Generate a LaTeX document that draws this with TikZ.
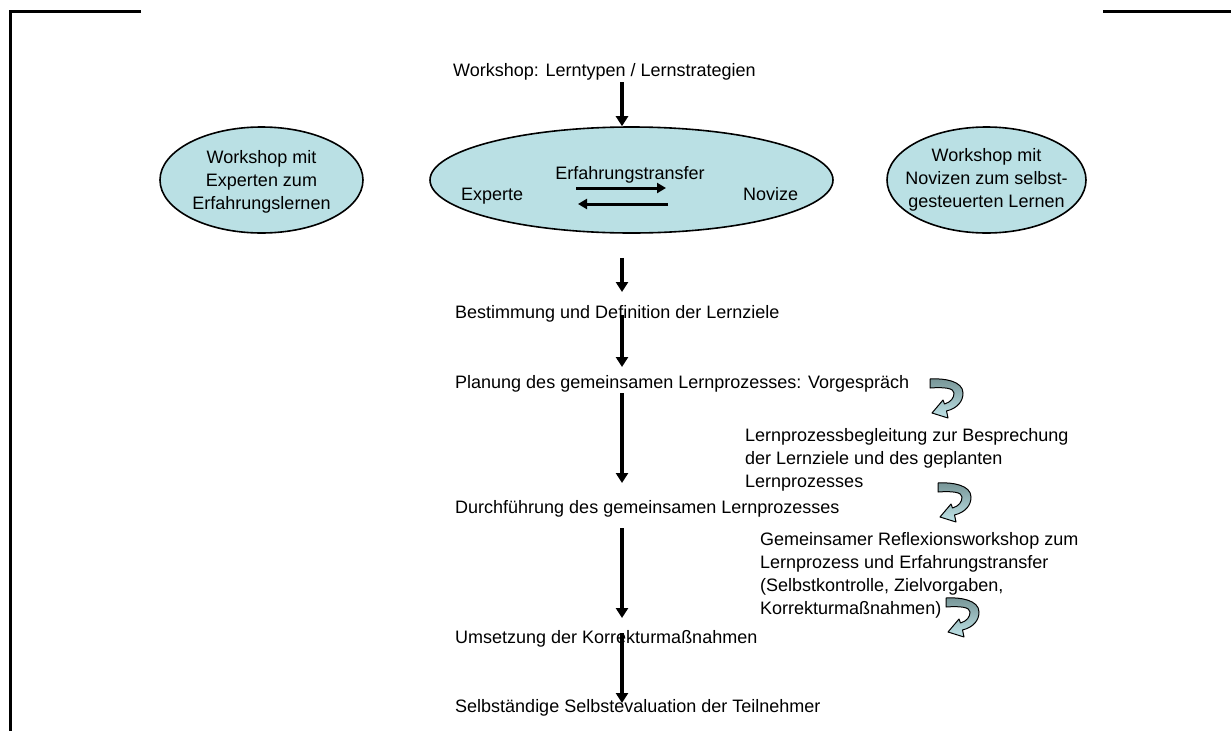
\documentclass[tikz,border=0pt]{standalone}
\usepackage{fontspec}
\setmainfont{Liberation Sans}
\usetikzlibrary{shapes.geometric,arrows.meta,calc}
\definecolor{bubble}{RGB}{186,224,228}
\definecolor{curldark}{RGB}{118,148,150}
\definecolor{curllight}{RGB}{192,228,232}
\tikzset{
  txt/.style={anchor=base west, inner sep=0pt},
  blocktxt/.style={anchor=north west, inner sep=0pt, align=left},
  bubblenode/.style={ellipse, draw=black, line width=1.6pt, fill=bubble, inner sep=0pt},
  bubbletxt/.style={inner sep=0pt, align=center},
  flow/.style={line width=3.2pt, -{Triangle[length=10pt,width=12pt]}},
  swaparrow/.style={line width=3pt, -{Triangle[length=9pt,width=10pt]}},
  frameline/.style={line width=3pt},
  curl/.pic={
    \shade[top color=curldark, bottom color=curllight, draw=black,
           line width=1pt, line join=round]
      (0,0) .. controls (14,-1) and (33,2) .. (33,14)
      .. controls (33,22) and (28,29) .. (16.5,32)
      -- (18,39) -- (2,34) -- (13,21) -- (14.5,25)
      .. controls (21,23) and (24,19) .. (24,14)
      .. controls (24,9) and (14,8) .. (0,9) -- cycle;
  }
}
\begin{document}
\begin{tikzpicture}[x=1pt, y=-1pt, font=\fontsize{18pt}{23pt}\selectfont]
\useasboundingbox (0,0) rectangle (1231,731);

% page frame fragments
\draw[frameline] (141,11) -- (10,11) -- (10,731);
\draw[frameline] (1103,11) -- (1231,11);

% vertical axis of the main flow
\coordinate (axis) at (622,0);

% heading
\node[txt] (title) at (453,76) {Workshop: Lerntypen / Lernstrategien};

% workshop bubbles
\node[bubblenode, minimum width=203pt, minimum height=106pt] (expert) at (261.5,180) {};
\node[bubbletxt] (experttxt) at (261.5,182) {Workshop mit\\Experten zum\\Erfahrungslernen};

\node[bubblenode, minimum width=403pt, minimum height=106pt] (central) at (631.5,180) {};
\node[anchor=base, inner sep=0pt] (transfer) at (630,179) {Erfahrungstransfer};
\node[txt] (experte) at (461,200) {Experte};
\node[txt] (novize) at (743,200) {Novize};

\node[bubblenode, minimum width=199pt, minimum height=106pt] (novice) at (986.5,180) {};
\node[bubbletxt] (novicetxt) at (986.5,180) {Workshop mit\\Novizen zum selbst-\\gesteuerten Lernen};

% exchange arrows between expert and novice
\draw[swaparrow] ($(transfer.base)+(-54,9)$) -- ($(transfer.base)+(36,9)$);
\draw[swaparrow] ($(transfer.base)+(38,25)$) -- ($(transfer.base)+(-52,25)$);

% process steps
\node[txt] (bestimmung) at (455,318) {Bestimmung und Definition der Lernziele};
\node[txt] (planung) at (455,388) {Planung des gemeinsamen Lernprozesses: Vorgespräch};
\node[txt] (durch) at (455,513) {Durchführung des gemeinsamen Lernprozesses};
\node[txt] (umsetzung) at (455,643) {Umsetzung der Korrekturmaßnahmen};
\node[txt] (selbst) at (455,712) {Selbständige Selbstevaluation der Teilnehmer};

% accompanying activities
\node[blocktxt] (begleitung) at (745,428) {Lernprozessbegleitung zur Besprechung\\der Lernziele und des geplanten\\Lernprozesses};
\node[blocktxt] (reflexion) at (760,532) {Gemeinsamer Reflexionsworkshop zum\\Lernprozess und Erfahrungstransfer\\(Selbstkontrolle, Zielvorgaben,\\Korrekturmaßnahmen)};

% main flow arrows
\draw[flow] ($(title.base -| axis)+(0,6)$) -- (central.north -| axis);
\draw[flow] ($(central.south -| axis)+(0,24)$) -- ($(bestimmung.base -| axis)+(0,-26)$);
\draw[flow] ($(bestimmung.base -| axis)+(0,-3)$) -- ($(planung.base -| axis)+(0,-21)$);
\draw[flow] ($(planung.base -| axis)+(0,5)$) -- ($(durch.base -| axis)+(0,-30)$);
\draw[flow] ($(durch.base -| axis)+(0,15)$) -- ($(umsetzung.base -| axis)+(0,-25)$);
\draw[flow] ($(umsetzung.base -| axis)+(0,-10)$) -- ($(selbst.base -| axis)+(0,-9)$);

% curled hand-over arrows
\pic at (930,379) {curl};
\pic at (938,483) {curl};
\pic at (946,598) {curl};
\end{tikzpicture}
\end{document}
